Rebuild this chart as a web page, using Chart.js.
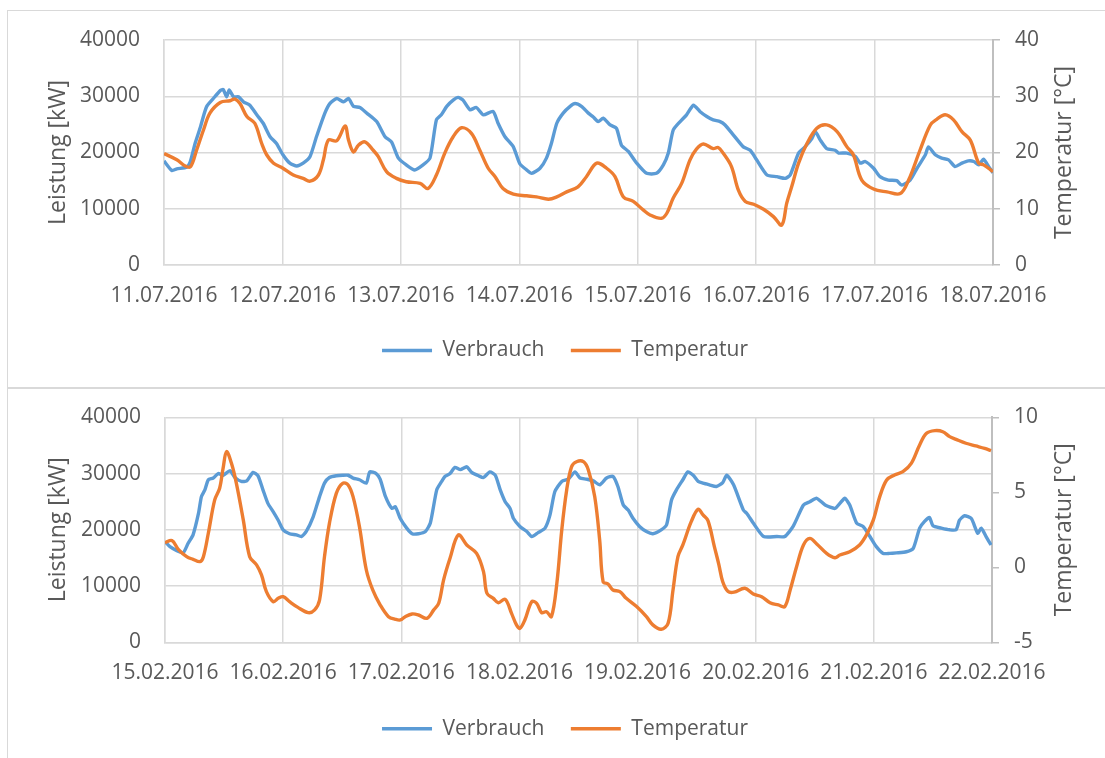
<!DOCTYPE html>
<html>
<head>
<meta charset="utf-8">
<script src="https://cdn.jsdelivr.net/npm/chart.js@4"></script>
<style>
html,body{margin:0;padding:0;background:#ffffff;overflow:hidden;width:1105px;height:758px;}
.box{position:absolute;box-sizing:border-box;border:1px solid #D9D9D9;border-right:none;}
#b1{left:7px;top:10px;width:1100px;height:378px;}
#b2{left:7px;top:388px;width:1100px;height:380px;border-bottom:none;}
canvas{position:absolute;left:0;top:0;}
</style>
</head>
<body>
<div class="box" id="b1"><canvas id="c1" width="1097" height="376" style="width:1097px;height:376px"></canvas></div>
<div class="box" id="b2"><canvas id="c2" width="1097" height="369" style="width:1097px;height:369px"></canvas></div>
<script>
// ---------- DATA ----------
const seriesNames = ['Verbrauch', 'Temperatur'];
const leftTitle = 'Leistung [kW]';
const rightTitle = 'Temperatur [°C]';

const topDates = ['11.07.2016','12.07.2016','13.07.2016','14.07.2016','15.07.2016','16.07.2016','17.07.2016','18.07.2016'];
const bottomDates = ['15.02.2016','16.02.2016','17.02.2016','18.02.2016','19.02.2016','20.02.2016','21.02.2016','22.02.2016'];

const leftTicks = [0, 10000, 20000, 30000, 40000];
const topRightTicks = [0, 10, 20, 30, 40];
const bottomRightTicks = [-5, 0, 5, 10];

// hours since the first date label
const topVerbrauchHours = [0.0,1.6,2.6,4.6,5.3,6.3,7.3,8.6,10.0,11.4,12.0,12.7,13.2,14.1,15.1,16.1,17.4,18.8,20.1,21.5,22.8,24.1,25.5,26.9,28.2,29.6,30.9,32.6,33.6,35.0,36.4,37.4,38.4,39.7,41.1,43.1,44.8,46.1,47.5,49.1,50.8,52.5,53.9,55.2,56.2,57.3,58.6,59.6,60.6,62.0,63.3,64.7,66.7,67.7,69.1,70.8,72.1,73.5,74.5,76.2,77.5,78.5,79.6,80.9,82.3,83.3,84.6,86.0,87.0,88.0,89.0,90.4,91.7,92.7,94.1,95.8,97.8,99.8,101.2,102.2,103.2,104.6,105.9,107.3,108.6,110.0,111.3,112.7,113.7,115.4,117.4,118.8,120.1,122.2,124.2,125.9,126.9,128.6,129.9,131.3,132.0,133.0,134.3,136.0,136.7,138.4,140.1,141.1,142.1,143.8,145.1,146.8,148.5,149.5,151.2,152.6,154.3,154.9,156.3,157.6,159.0,160.3,161.7,163.0,164.1,165.1,166.1,167.1,168.0];
const topVerbrauchKW = [18500,16800,17100,17400,18300,21600,24300,28100,29600,31000,31200,29900,31100,29900,29900,29000,28400,26700,25200,22800,21600,19600,18100,17600,18100,19300,22800,27000,28700,29600,29000,29600,28200,28000,27000,25500,22800,21900,19000,17800,16900,17800,19000,25800,26700,28200,29300,29800,29300,27600,28000,26700,27300,25200,22800,21000,18000,16900,16300,17200,19000,21600,25200,27000,28200,28700,28200,27000,26300,25500,26100,24900,24300,21300,20200,18100,16300,16300,17800,19900,24000,25500,26700,28400,27300,26400,25800,25500,24900,23100,21000,20400,18700,16000,15700,15400,16000,19900,21000,22500,23700,22200,20700,20400,19900,19900,19300,18100,18400,17200,15700,15100,15000,14200,15100,17200,19600,21000,19600,19000,18700,17500,18100,18500,18400,17800,18800,17500,16400];

const topTemperaturHours = [0.0,2.6,4.3,5.4,6.6,8.0,9.3,11.4,13.4,14.4,15.4,16.8,18.4,19.8,20.8,22.2,24.1,26.2,28.2,29.6,31.3,32.3,33.3,35.0,36.7,37.4,38.4,39.4,40.7,42.4,43.4,45.1,47.1,49.1,51.9,53.5,55.2,56.9,58.6,60.3,62.3,64.0,65.7,67.1,68.7,70.8,73.5,75.5,77.9,79.6,81.6,83.9,85.6,87.7,89.7,91.4,93.1,95.1,97.1,98.5,100.8,101.9,103.2,104.9,106.6,107.9,109.3,111.3,112.3,113.3,115.0,116.4,117.8,119.5,121.5,123.5,125.2,126.2,127.2,128.6,130.3,132.3,134.3,136.4,138.4,139.7,141.4,143.8,146.5,149.2,150.9,153.2,155.3,156.6,158.3,160.0,161.7,163.4,165.1,166.1,168.0];
const topTemperaturC = [19.8,18.7,17.6,17.5,20.4,24.0,27.0,28.9,29.2,29.5,28.7,26.4,25.2,21.6,19.6,18.1,17.2,16.0,15.4,14.9,16.0,18.7,22.2,22.1,24.7,22.2,20.1,21.3,21.9,20.4,19.3,16.6,15.4,14.8,14.5,13.6,16.0,19.9,22.8,24.4,23.4,20.4,17.2,15.7,13.6,12.6,12.3,12.1,11.7,12.1,13.0,13.9,15.7,18.1,17.2,15.7,12.1,11.3,9.8,8.9,8.3,9.2,11.9,14.5,18.7,20.6,21.5,20.7,20.9,19.9,17.5,13.3,11.3,10.8,9.9,8.6,7.1,11.0,13.9,18.1,21.6,24.3,24.9,23.7,21.0,19.6,15.1,13.5,13.0,12.7,15.1,20.4,24.9,25.9,26.7,25.8,23.7,22.2,18.1,17.8,16.6];

const bottomVerbrauchHours = [0.0,1.0,2.4,3.7,4.7,5.7,6.8,7.4,8.1,8.8,9.8,10.8,11.8,13.2,14.2,15.5,16.6,17.9,18.9,19.9,20.9,22.0,23.0,24.0,25.3,26.7,27.7,28.7,30.1,31.4,32.4,33.4,34.8,36.1,37.2,38.2,39.5,40.9,41.6,42.9,43.7,44.8,46.1,46.8,47.8,49.1,50.2,51.5,52.9,53.9,55.2,56.2,56.9,57.9,58.9,60.0,61.3,62.3,63.7,64.7,66.0,67.1,68.1,69.1,70.1,70.8,72.1,73.5,74.5,75.8,77.2,78.2,79.2,80.6,81.9,83.3,84.3,85.6,87.0,88.3,89.7,91.0,92.0,93.1,94.1,95.1,96.4,97.8,99.1,100.8,101.9,102.9,103.9,105.2,106.2,107.3,108.3,109.3,110.6,112.0,113.3,114.1,115.5,117.5,118.2,119.5,121.6,124.3,125.9,127.6,129.7,131.0,132.4,134.1,136.1,137.1,138.1,139.1,140.5,141.8,143.2,144.5,145.9,147.2,148.6,150.6,152.0,153.3,154.3,155.3,156.0,157.7,159.4,160.7,161.4,162.4,163.8,165.1,165.8,166.8,167.8];
const bottomVerbrauchKW = [17900,17000,16300,15900,17600,19100,22900,25900,27100,28900,29200,30000,29700,30500,29300,28600,28700,30200,29600,27100,24700,23200,21700,20000,19300,19100,18800,19700,22300,25900,28300,29300,29600,29700,29700,29200,28900,28300,30300,30000,29000,25900,23800,24100,22000,20300,19300,19300,19700,21200,27100,28600,29500,30000,31100,30700,31200,30200,29600,29300,30300,29700,27100,25000,23800,22000,20600,19700,18800,19500,20300,22600,26800,28600,29000,30300,29200,29000,28700,28000,29200,29500,27700,24400,23500,22000,20600,19700,19300,20000,20900,25300,27100,28900,30300,29700,28600,28300,28000,27700,28400,29700,28000,23500,22900,21200,18800,18800,18800,20600,24400,25000,25600,24400,23800,24700,25600,24400,21200,20600,18800,17000,15800,15800,15900,16100,16700,20300,21500,22200,20700,20300,20000,20000,21700,22500,22000,19400,20300,18800,17300];

const bottomTemperaturHours = [0.0,1.4,2.7,4.4,5.7,7.1,7.8,8.8,10.1,11.1,11.8,12.5,13.5,14.5,15.9,17.2,18.6,19.6,20.6,22.0,23.0,24.0,25.3,27.0,29.1,30.4,31.4,32.4,33.4,34.8,36.1,37.2,38.2,39.5,40.9,42.2,43.7,45.4,46.8,47.8,48.8,50.2,51.5,53.2,54.6,55.6,56.6,57.9,59.6,61.3,63.3,64.7,65.4,66.7,67.7,69.1,70.4,71.4,72.1,73.1,74.5,75.5,76.5,77.5,78.5,79.6,80.6,81.6,82.6,83.6,85.0,86.0,87.3,88.3,89.0,90.0,91.0,92.4,93.7,95.8,97.8,99.1,100.8,102.2,103.2,104.2,105.2,106.9,108.3,109.3,110.3,111.6,112.5,113.3,114.4,115.6,117.8,119.5,121.2,122.9,124.6,125.9,127.0,128.3,129.7,131.0,132.4,134.4,136.1,137.1,139.1,141.1,142.5,143.9,145.2,146.6,148.2,149.9,151.6,153.3,154.7,156.4,158.0,159.4,160.7,162.7,164.7,166.5,167.8];
const bottomTemperaturC = [1.64,1.78,1.2,0.71,0.53,0.38,0.71,2.27,4.49,5.27,6.6,7.71,6.93,5.6,3.16,0.71,0.16,-0.51,-1.62,-2.29,-2.07,-1.96,-2.29,-2.67,-3.02,-2.84,-2.18,0.71,2.93,4.93,5.6,5.49,4.71,2.71,-0.18,-1.51,-2.5,-3.29,-3.47,-3.51,-3.29,-3.11,-3.18,-3.4,-2.84,-2.4,-0.84,0.6,2.16,1.49,0.93,-0.29,-1.73,-2.07,-2.36,-2.13,-3.07,-3.84,-4.07,-3.51,-2.29,-2.4,-3.02,-2.96,-3.29,-1.07,2.49,5.16,6.71,7.04,7.04,6.49,4.71,1.82,-0.96,-1.11,-1.51,-1.62,-2.07,-2.62,-3.29,-3.84,-4.13,-3.73,-1.51,0.71,1.49,3.04,3.87,3.49,3.11,1.38,0.2,-0.96,-1.62,-1.66,-1.4,-1.78,-1.96,-2.36,-2.51,-2.62,-1.51,0.04,1.49,1.93,1.56,0.93,0.64,0.82,1.04,1.49,2.16,3.16,4.71,5.82,6.16,6.38,6.93,8.16,8.93,9.11,9.04,8.71,8.53,8.27,8.09,7.93,7.78];

// ---------- STYLE ----------
const C_VERBRAUCH = '#5B9BD5';
const C_TEMPERATUR = '#ED7D31';
const C_TEXT = '#595959';
const C_GRID = '#D9D9D9';
const C_AXIS = '#BFBFBF';
const FONT = '"Open Sans", "Noto Sans", sans-serif';

Chart.defaults.font.family = FONT;
Chart.defaults.color = C_TEXT;

const rightTitlePlugin = {
  id: 'rightTitle',
  afterDraw(chart, args, opts) {
    const s = chart.scales.yR;
    const ctx = chart.ctx;
    ctx.save();
    ctx.font = '23px ' + FONT;
    ctx.fillStyle = C_TEXT;
    ctx.textAlign = 'center';
    ctx.textBaseline = 'middle';
    ctx.translate(s.right - opts.offset, (s.top + s.bottom) / 2);
    ctx.rotate(-Math.PI / 2);
    ctx.fillText(opts.text, 0, 0);
    ctx.restore();
  }
};

function toPoints(hours, values) {
  return hours.map((h, i) => ({ x: h, y: values[i] }));
}

function build(id, o) {
  new Chart(document.getElementById(id), {
    type: 'line',
    data: {
      datasets: [
        { label: seriesNames[0], data: toPoints(o.vh, o.vv), yAxisID: 'yL',
          borderColor: C_VERBRAUCH, backgroundColor: C_VERBRAUCH, borderWidth: 3.4,
          pointRadius: 0, tension: 0.2, fill: false, order: 2 },
        { label: seriesNames[1], data: toPoints(o.th, o.tv), yAxisID: 'yR',
          borderColor: C_TEMPERATUR, backgroundColor: C_TEMPERATUR, borderWidth: 3.4,
          pointRadius: 0, tension: 0.35, fill: false, order: 1 }
      ]
    },
    options: {
      responsive: false,
      animation: false,
      devicePixelRatio: 1,
      events: [],
      layout: { padding: { left: 17, right: 0, top: o.padTop, bottom: o.padBottom } },
      plugins: {
        tooltip: { enabled: false },
        legend: {
          position: 'bottom',
          labels: {
            font: { size: 21 },
            color: C_TEXT,
            boxWidth: 50,
            boxHeight: 3.5,
            padding: 26.5,
            sort: (a, b) => a.datasetIndex - b.datasetIndex,
            generateLabels: (chart) => {
              const items = Chart.defaults.plugins.legend.labels.generateLabels(chart);
              items.forEach(it => {
                const ds = chart.data.datasets[it.datasetIndex];
                it.fillStyle = ds.borderColor;
                it.strokeStyle = ds.borderColor;
                it.lineWidth = 0;
              });
              return items;
            }
          }
        },
        rightTitle: { text: rightTitle, offset: 40.5 }
      },
      scales: {
        x: {
          type: 'linear', min: 0, max: 168,
          afterBuildTicks: s => { s.ticks = o.dates.map((d, i) => ({ value: i * 24 })); },
          afterFit: s => { s.height = o.xH; },
          ticks: { callback: (v, i) => o.dates[i], autoSkip: false, maxRotation: 0, minRotation: 0,
                   padding: 18.4, font: { size: 21 }, color: C_TEXT },
          grid: { color: C_GRID, lineWidth: 1.5, drawTicks: false },
          border: { color: C_GRID, width: 1.5 }
        },
        yL: {
          type: 'linear', position: 'left', min: 0, max: 40000,
          afterBuildTicks: s => { s.ticks = leftTicks.map(v => ({ value: v })); },
          afterFit: s => { s.width = o.leftW; },
          ticks: { callback: v => String(v), padding: 0, font: { size: 21 }, color: C_TEXT },
          grid: { color: C_GRID, lineWidth: 1.5, drawTicks: true, tickLength: 24, tickColor: 'rgba(0,0,0,0)' },
          border: { color: C_GRID, width: 1.5 },
          title: { display: true, text: leftTitle, font: { size: 23 }, color: C_TEXT,
                   padding: { top: 20, bottom: 0 } }
        },
        yR: {
          type: 'linear', position: 'right', min: o.rTicks[0], max: o.rTicks[o.rTicks.length - 1],
          afterBuildTicks: s => { s.ticks = o.rTicks.map(v => ({ value: v })); },
          afterFit: s => { s.width = o.rightW; },
          ticks: { callback: v => String(v), padding: 15, font: { size: 21 }, color: C_TEXT },
          grid: { drawOnChartArea: false, drawTicks: true, tickLength: 7, color: C_AXIS, lineWidth: 1.5 },
          border: { color: C_AXIS, width: 2 }
        }
      }
    },
    plugins: [rightTitlePlugin]
  });
}

build('c1', {
  dates: topDates, vh: topVerbrauchHours, vv: topVerbrauchKW,
  th: topTemperaturHours, tv: topTemperaturC, rTicks: topRightTicks,
  padTop: 29, padBottom: 16, xH: 48.5, leftW: 139, rightW: 112
});
build('c2', {
  dates: bottomDates, vh: bottomVerbrauchHours, vv: bottomVerbrauchKW,
  th: bottomTemperaturHours, tv: bottomTemperaturC, rTicks: bottomRightTicks,
  padTop: 28.3, padBottom: 8.7, xH: 49.5, leftW: 140, rightW: 113
});
</script>
</body>
</html>
